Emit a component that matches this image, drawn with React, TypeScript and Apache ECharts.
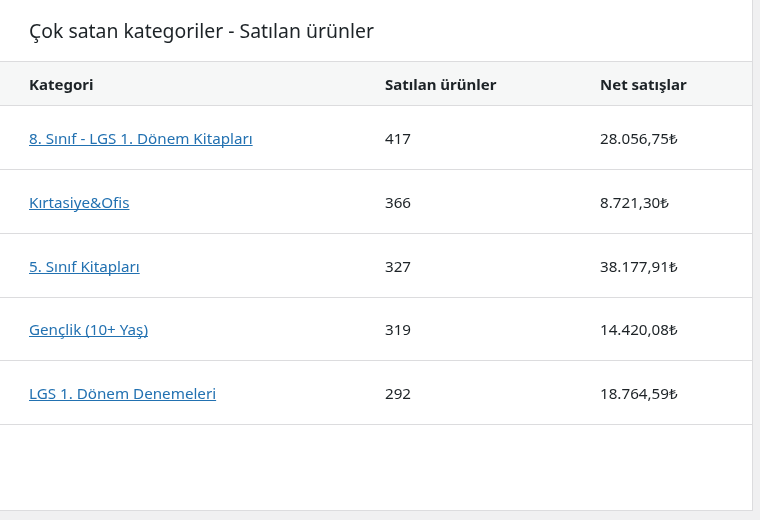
import React, { useEffect, useRef } from "react";
import * as echarts from "echarts";

const title = "Çok satan kategoriler - Satılan ürünler";
const headers = ["Kategori", "Satılan ürünler", "Net satışlar"];
const categories = [
  "8. Sınıf - LGS 1. Dönem Kitapları",
  "Kırtasiye&Ofis",
  "5. Sınıf Kitapları",
  "Gençlik (10+ Yaş)",
  "LGS 1. Dönem Denemeleri",
];
const itemsSold = [417, 366, 327, 319, 292];
const netSales = [28056.75, 8721.3, 38177.91, 14420.08, 18764.59];

const FONT = "'Noto Sans', 'Open Sans', sans-serif";

function formatTL(v: number): string {
  const [intPart, dec] = v.toFixed(2).split(".");
  const withDots = intPart.replace(/\B(?=(\d{3})+(?!\d))/g, ".");
  return withDots + "," + dec + "₺";
}

function measure(text: string, size: number, weight = "normal"): number {
  const c = document.createElement("canvas").getContext("2d");
  if (!c) return text.length * size * 0.5;
  c.font = `${weight} ${size}px ${FONT}`;
  return c.measureText(text).width;
}

export default function App() {
  const ref = useRef<HTMLDivElement>(null);
  useEffect(() => {
    if (!ref.current) return;
    const chart = echarts.init(ref.current, undefined, { renderer: "svg" });
    const colX = [29, 385, 600];
    const headerY = 84;
    const rowY0 = 138;
    const rowH = 63.75;
    const textColor = "#1d2327";
    const linkColor = "#2271b1";
    const border = "#dcdcde";
    const fs = 15.2;

    const elements: any[] = [
      { type: "rect", shape: { x: 0, y: 0, width: 760, height: 520 }, style: { fill: "#f0f0f1" }, silent: true },
      { type: "rect", shape: { x: 0, y: 0, width: 752, height: 510 }, style: { fill: "#ffffff" }, silent: true },
      { type: "line", shape: { x1: 752.5, y1: 0, x2: 752.5, y2: 511 }, style: { stroke: border, lineWidth: 1 } },
      { type: "line", shape: { x1: 0, y1: 510.5, x2: 753, y2: 510.5 }, style: { stroke: border, lineWidth: 1 } },
      { type: "rect", shape: { x: 0, y: 62, width: 752, height: 43 }, style: { fill: "#f6f7f7" }, silent: true },
      { type: "line", shape: { x1: 0, y1: 61.5, x2: 752, y2: 61.5 }, style: { stroke: border, lineWidth: 1 } },
      { type: "line", shape: { x1: 0, y1: 105.5, x2: 752, y2: 105.5 }, style: { stroke: border, lineWidth: 1 } },
      {
        type: "text",
        x: 29,
        y: 30,
        style: { text: title, fontSize: 19.4, fontFamily: FONT, fill: textColor, verticalAlign: "middle", align: "left" },
      },
    ];

    headers.forEach((h, i) => {
      elements.push({
        type: "text",
        x: colX[i],
        y: headerY,
        style: { text: h, fontSize: 15, fontWeight: "bold", fontFamily: FONT, fill: textColor, verticalAlign: "middle", align: "left" },
      });
    });

    categories.forEach((cat, i) => {
      const cy = rowY0 + i * rowH;
      const w = measure(cat, fs);
      elements.push({
        type: "text",
        x: colX[0],
        y: cy,
        style: { text: cat, fontSize: fs, fontFamily: FONT, fill: linkColor, verticalAlign: "middle", align: "left" },
      });
      const uy = Math.round(cy + 7) + 0.5;
      elements.push({
        type: "line",
        shape: { x1: colX[0], y1: uy, x2: colX[0] + w, y2: uy },
        style: { stroke: linkColor, lineWidth: 1 },
      });
      elements.push({
        type: "text",
        x: colX[1],
        y: cy,
        style: { text: String(itemsSold[i]), fontSize: fs, fontFamily: FONT, fill: textColor, verticalAlign: "middle", align: "left" },
      });
      elements.push({
        type: "text",
        x: colX[2],
        y: cy,
        style: { text: formatTL(netSales[i]), fontSize: fs, fontFamily: FONT, fill: textColor, verticalAlign: "middle", align: "left" },
      });
      const sepY = Math.round(169 + i * rowH) + 0.5;
      elements.push({
        type: "line",
        shape: { x1: 0, y1: sepY, x2: 752, y2: sepY },
        style: { stroke: border, lineWidth: 1 },
      });
    });

    chart.setOption({ animation: false, graphic: { elements } });
    return () => chart.dispose();
  }, []);

  return (
    <div
      ref={ref}
      style={{ position: "fixed", left: 0, top: 0, width: 760, height: 520 }}
    />
  );
}
